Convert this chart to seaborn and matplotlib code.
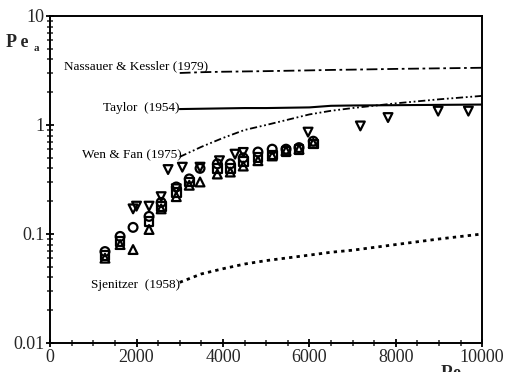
import numpy as np
import pandas as pd
import matplotlib
matplotlib.use('Agg')
import matplotlib.pyplot as plt
import seaborn as sns
from matplotlib.ticker import NullFormatter, MultipleLocator

# measured data, four series
re_circle = [1270, 1620, 1920, 2290, 2570, 2920, 3220, 3470, 3870, 4170, 4470, 4810, 5140, 5460, 5760, 6090]
pe_circle = [0.069, 0.095, 0.115, 0.145, 0.195, 0.27, 0.32, 0.40, 0.44, 0.44, 0.50, 0.565, 0.60, 0.60, 0.62, 0.71]

re_square = [1270, 1620, 2290, 2570, 2920, 3220, 3870, 4170, 4470, 4810, 5140, 5460, 5760, 6090]
pe_square = [0.063, 0.085, 0.13, 0.18, 0.24, 0.30, 0.40, 0.40, 0.46, 0.50, 0.53, 0.57, 0.60, 0.67]

re_up = [1270, 1620, 1920, 2290, 2570, 2920, 3220, 3470, 3870, 4170, 4470, 4810, 5140, 5460, 5760, 6090]
pe_up = [0.060, 0.080, 0.072, 0.11, 0.17, 0.22, 0.28, 0.30, 0.355, 0.37, 0.42, 0.47, 0.52, 0.58, 0.60, 0.68]

re_down = [1920, 2000, 2290, 2570, 2730, 2920, 3060, 3470, 3920, 4280, 4470, 5970, 7180, 7820, 8980, 9680]
pe_down = [0.17, 0.18, 0.18, 0.22, 0.39, 0.26, 0.41, 0.41, 0.47, 0.54, 0.56, 0.86, 0.98, 1.17, 1.34, 1.34]

# correlations
re_corr = [3000, 3500, 4000, 4500, 5000, 6000, 6500, 7000, 8000, 9000, 10000]
pe_nassauer = [3.0, 3.05, 3.08, 3.1, 3.12, 3.17, 3.2, 3.22, 3.27, 3.31, 3.35]
pe_taylor = [1.40, 1.41, 1.42, 1.43, 1.43, 1.45, 1.50, 1.51, 1.52, 1.53, 1.54]
pe_wenfan = [0.51, 0.63, 0.76, 0.90, 1.0, 1.25, 1.35, 1.43, 1.58, 1.72, 1.85]
pe_sjenitzer = [0.036, 0.043, 0.048, 0.053, 0.057, 0.064, 0.068, 0.071, 0.080, 0.090, 0.10]

sns.set_style('ticks')
plt.rcParams['font.family'] = ['Liberation Serif', 'DejaVu Serif']

fig = plt.figure(figsize=(5.06, 3.72), dpi=100)
ax = fig.add_axes([0.099, 0.078, 0.854, 0.879])

sns.lineplot(x=re_corr, y=pe_nassauer, ax=ax, color='black', lw=1.3)
ax.lines[-1].set_dashes([6, 2, 1.5, 2])
sns.lineplot(x=re_corr, y=pe_taylor, ax=ax, color='black', lw=1.5)
sns.lineplot(x=re_corr, y=pe_wenfan, ax=ax, color='black', lw=1.3)
ax.lines[-1].set_dashes([4, 1.5, 1, 1.5, 1, 1.5])
sns.lineplot(x=re_corr, y=pe_sjenitzer, ax=ax, color='black', lw=2)
ax.lines[-1].set_dashes([1.2, 1.5])

mk = dict(facecolor='none', edgecolor='black', linewidth=1.6, s=40, ax=ax, zorder=3)
sns.scatterplot(x=re_circle, y=pe_circle, marker='o', **mk)
sns.scatterplot(x=re_square, y=pe_square, marker='s', **mk)
sns.scatterplot(x=re_up, y=pe_up, marker='^', **mk)
sns.scatterplot(x=re_down, y=pe_down, marker='v', **mk)

ax.set_yscale('log')
ax.set_xlim(0, 10000)
ax.set_ylim(0.01, 10)
ax.set_yticks([0.01, 0.1, 1, 10])
ax.set_yticklabels(['0.01', '0.1', '1', '10'])
ax.yaxis.set_minor_formatter(NullFormatter())
ax.xaxis.set_major_locator(MultipleLocator(2000))
ax.xaxis.set_minor_locator(MultipleLocator(500))
ax.tick_params(axis='both', which='major', labelsize=13, length=6, width=1.3, direction='inout', color='black')
ax.tick_params(axis='both', which='minor', length=4, width=1.1, direction='inout')
ax.tick_params(axis='x', pad=1)
ax.tick_params(axis='y', pad=1)
for s in ax.spines.values():
    s.set_linewidth(1.4)
    s.set_color('black')

tk = dict(fontsize=9.5, color='black')
ax.text(3650, 3.45, 'Nassauer & Kessler (1979)', ha='right', va='center', **tk)
ax.text(3000, 1.43, 'Taylor  (1954)', ha='right', va='center', **tk)
ax.text(3050, 0.53, 'Wen & Fan (1975)', ha='right', va='center', **tk)
ax.text(3000, 0.034, 'Sjenitzer  (1958)', ha='right', va='center', **tk)

fig.text(0.012, 0.885, 'P e', fontsize=13, fontweight='bold', ha='left', va='center')
fig.text(0.066, 0.87, 'a', fontsize=8, fontweight='bold', ha='left', va='center')
fig.text(0.87, -0.005, 'Re', fontsize=13, fontweight='bold', ha='left', va='center')

fig.savefig('out.png', dpi=100)
